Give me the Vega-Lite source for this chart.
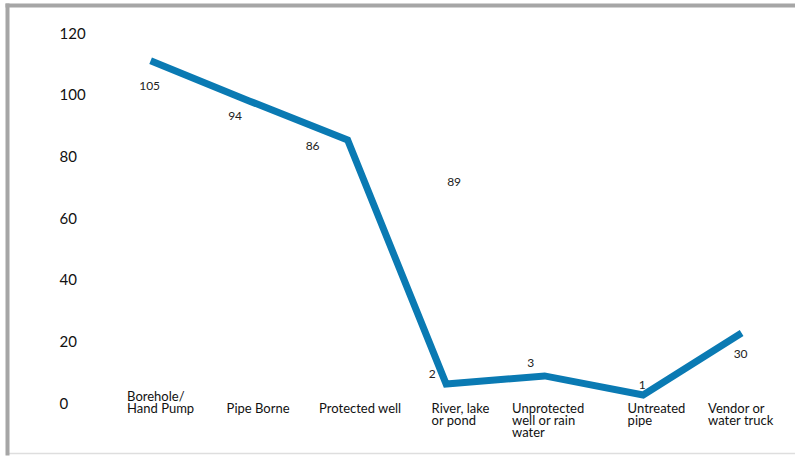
{
  "$schema": "https://vega.github.io/schema/vega-lite/v6.json",
  "width": 788,
  "height": 448,
  "autosize": {"type": "none"},
  "padding": {"left": 7, "top": 5, "right": 0, "bottom": 3},
  "background": "white",
  "config": {"view": {"stroke": null}, "font": "Lato"},
  "datasets": {
    "line": [
      {"source": "Borehole/ Hand Pump", "value": 111},
      {"source": "Pipe Borne", "value": 98},
      {"source": "Protected well", "value": 85.3},
      {"source": "River, lake or pond", "value": 6.2},
      {"source": "Unprotected well or rain water", "value": 8.8},
      {"source": "Untreated pipe", "value": 2.6},
      {"source": "Vendor or water truck", "value": 22.7}
    ],
    "labels": [
      {"source": "Borehole/ Hand Pump", "label": 105, "y": 102.8},
      {"source": "Pipe Borne", "label": 94, "y": 93.2},
      {"source": "Protected well", "label": 86, "y": 83.5},
      {"source": "River, lake or pond", "label": 89, "y": 71.6},
      {"source": "River, lake or pond", "label": 2, "y": 9.3},
      {"source": "Unprotected well or rain water", "label": 3, "y": 13.1},
      {"source": "Untreated pipe", "label": 1, "y": 5.8},
      {"source": "Vendor or water truck", "label": 30, "y": 16}
    ]
  },
  "layer": [
    {
      "data": {"name": "line"},
      "mark": {"type": "line", "color": "#0a7ab3", "strokeWidth": 7, "strokeJoin": "miter"},
      "encoding": {
        "x": {
          "field": "source", "type": "nominal", "sort": null,
          "scale": {"type": "point", "padding": 1.037, "align": 0.729,
            "domain": ["Borehole/ Hand Pump", "Pipe Borne", "Protected well", "River, lake or pond", "Unprotected well or rain water", "Untreated pipe", "Vendor or water truck"]},
          "axis": {
            "orient": "bottom", "offset": -51, "domain": false, "ticks": false, "grid": false,
            "labelPadding": {"condition": {"test": "datum.value == 'Borehole/ Hand Pump'", "value": -12}, "value": 0},
            "labelAlign": "left",
            "labelOffset": {"condition": [
              {"test": "datum.value == 'Borehole/ Hand Pump'", "value": -24},
              {"test": "datum.value == 'Pipe Borne'", "value": -23},
              {"test": "datum.value == 'Protected well'", "value": -29},
              {"test": "datum.value == 'River, lake or pond'", "value": -15},
              {"test": "datum.value == 'Unprotected well or rain water'", "value": -33},
              {"test": "datum.value == 'Untreated pipe'", "value": -16}
            ], "value": -34},
            "labelBaseline": "top",
            "labelAngle": 0, "labelFontSize": 13, "labelColor": "#111", "labelLineHeight": 12,
            "labelOverlap": false, "labelBound": false, "labelFlush": false, "title": null,
            "labelExpr": "datum.value == 'Borehole/ Hand Pump' ? ['Borehole/', 'Hand Pump'] : datum.value == 'River, lake or pond' ? ['River, lake', 'or pond'] : datum.value == 'Unprotected well or rain water' ? ['Unprotected', 'well or rain', 'water'] : datum.value == 'Untreated pipe' ? ['Untreated', 'pipe'] : datum.value == 'Vendor or water truck' ? ['Vendor or', 'water truck'] : datum.value"
          }
        },
        "y": {
          "field": "value", "type": "quantitative",
          "scale": {"domain": [-16.2, 129.1], "nice": false, "zero": false},
          "axis": {
            "orient": "left", "offset": -52, "domain": false, "ticks": false, "grid": false,
            "labelPadding": 0, "labelAlign": "left", "values": [0, 20, 40, 60, 80, 100, 120],
            "labelFontSize": 15, "labelColor": "#111", "title": null
          }
        }
      }
    },
    {
      "data": {"name": "labels"},
      "transform": [{"filter": "indexof([105, 1, 30], datum.label) >= 0"}],
      "mark": {"type": "text", "fontSize": 12, "color": "#222", "align": "center", "baseline": "middle", "dx": -1},
      "encoding": {
        "x": {"field": "source", "type": "nominal", "sort": null,
          "axis": {"orient": "top", "domain": true, "domainColor": "#a6a6a6", "domainWidth": 4, "domainCap": "square", "labels": false, "ticks": false, "grid": false, "title": null}},
        "y": {"field": "y", "type": "quantitative",
          "axis": {"orient": "left", "domain": true, "domainColor": "#a6a6a6", "domainWidth": 4, "domainCap": "square", "labels": false, "ticks": false, "grid": false, "title": null}},
        "text": {"field": "label", "type": "quantitative"}
      }
    },
    {
      "data": {"name": "labels"},
      "transform": [{"filter": "indexof([94, 2, 3], datum.label) >= 0"}],
      "mark": {"type": "text", "fontSize": 12, "color": "#222", "align": "center", "baseline": "middle", "dx": -14},
      "encoding": {
        "x": {"field": "source", "type": "nominal", "sort": null,
          "axis": {"orient": "bottom", "domain": true, "domainColor": "#dedede", "domainWidth": 1.5, "labels": false, "ticks": false, "grid": false, "title": null}},
        "y": {"field": "y", "type": "quantitative", "axis": null},
        "text": {"field": "label", "type": "quantitative"}
      }
    },
    {
      "data": {"name": "labels"},
      "transform": [{"filter": "datum.label == 86"}],
      "mark": {"type": "text", "fontSize": 12, "color": "#222", "align": "center", "baseline": "middle", "dx": -35},
      "encoding": {
        "x": {"field": "source", "type": "nominal", "sort": null, "axis": null},
        "y": {"field": "y", "type": "quantitative", "axis": null},
        "text": {"field": "label", "type": "quantitative"}
      }
    },
    {
      "data": {"name": "labels"},
      "transform": [{"filter": "datum.label == 89"}],
      "mark": {"type": "text", "fontSize": 12, "color": "#222", "align": "center", "baseline": "middle", "dx": 8},
      "encoding": {
        "x": {"field": "source", "type": "nominal", "sort": null, "axis": null},
        "y": {"field": "y", "type": "quantitative", "axis": null},
        "text": {"field": "label", "type": "quantitative"}
      }
    }
  ],
  "resolve": {"axis": {"x": "independent", "y": "independent"}}
}
